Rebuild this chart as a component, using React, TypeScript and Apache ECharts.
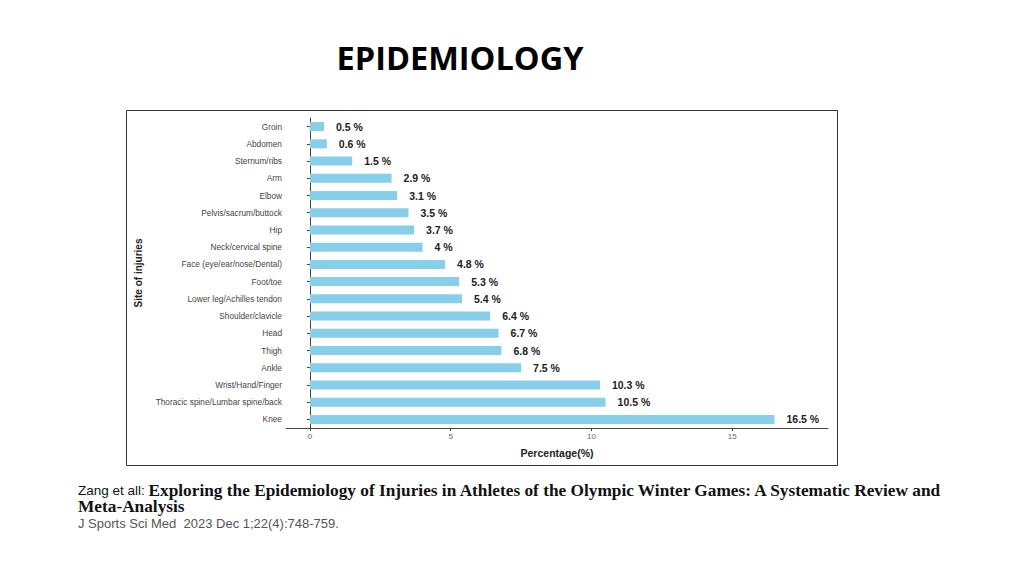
import React, { useEffect, useRef } from "react";
import * as echarts from "echarts";

const categories = [
  "Knee",
  "Thoracic spine/Lumbar spine/back",
  "Wrist/Hand/Finger",
  "Ankle",
  "Thigh",
  "Head",
  "Shoulder/clavicle",
  "Lower leg/Achilles tendon",
  "Foot/toe",
  "Face (eye/ear/nose/Dental)",
  "Neck/cervical spine",
  "Hip",
  "Pelvis/sacrum/buttock",
  "Elbow",
  "Arm",
  "Sternum/ribs",
  "Abdomen",
  "Groin",
];
const values = [16.5, 10.5, 10.3, 7.5, 6.8, 6.7, 6.4, 5.4, 5.3, 4.8, 4, 3.7, 3.5, 3.1, 2.9, 1.5, 0.6, 0.5];
const xTicks = [0, 5, 10, 15];

export default function App() {
  const ref = useRef<HTMLDivElement>(null);
  useEffect(() => {
    if (!ref.current) return;
    const chart = echarts.init(ref.current, null, { renderer: "svg" });
    chart.setOption({
      animation: false,
      backgroundColor: "#ffffff",
      grid: { left: 286, right: 196, top: 118, bottom: 148 },
      xAxis: {
        type: "value",
        min: -0.85,
        max: 18.4,
        name: "Percentage(%)",
        nameLocation: "middle",
        nameGap: 19,
        nameTextStyle: { fontSize: 10.5, fontWeight: "bold", color: "#222", fontFamily: "Liberation Sans" },
        axisLine: { show: true, lineStyle: { color: "#444", width: 1 } },
        axisTick: { show: true, customValues: xTicks, length: 3, lineStyle: { color: "#444" } },
        axisLabel: { customValues: xTicks, fontSize: 8, color: "#666", margin: 4, fontFamily: "Liberation Sans" },
        splitLine: { show: false },
      },
      yAxis: {
        type: "category",
        data: categories,
        name: "Site of injuries",
        nameLocation: "middle",
        nameRotate: 90,
        nameGap: 143,
        nameTextStyle: { fontSize: 10, fontWeight: "bold", color: "#222", fontFamily: "Liberation Sans" },
        axisLine: { show: true, lineStyle: { color: "#444", width: 1 } },
        axisTick: { show: true, alignWithLabel: true, length: 3, lineStyle: { color: "#444" } },
        axisLabel: { fontSize: 8.3, color: "#444", margin: 4, fontFamily: "Liberation Sans" },
      },
      series: [
        {
          type: "bar",
          data: values,
          barWidth: 9,
          itemStyle: { color: "#87CEEB" },
          label: {
            show: true,
            position: "right",
            distance: 12,
            fontSize: 10.5,
            fontWeight: "bold",
            color: "#222",
            fontFamily: "Liberation Sans",
            formatter: (p: any) => `${p.value} %`,
          },
        },
      ],
      graphic: [
        {
          type: "rect",
          shape: { x: 126.5, y: 110.5, width: 711, height: 355 },
          style: { fill: "none", stroke: "#333", lineWidth: 1 },
          z: -1,
        },
        {
          type: "text",
          x: 460,
          y: 57,
          style: {
            text: "EPIDEMIOLOGY",
            font: "bold 32.5px 'Open Sans', sans-serif",
            fill: "#000",
            align: "center",
            verticalAlign: "middle",
          },
        },
        {
          type: "text",
          x: 78,
          y: 490,
          style: {
            text: "{a|Zang et all: }{b|Exploring the Epidemiology of Injuries in Athletes of the Olympic Winter Games: A Systematic Review and}",
            verticalAlign: "middle",
            rich: {
              a: { fontSize: 13.5, fontFamily: "Liberation Sans Narrow, Liberation Sans", fill: "#111" },
              b: { fontSize: 17.3, fontFamily: "Liberation Serif", fontWeight: "bold", fill: "#111" },
            },
          },
        },
        {
          type: "text",
          x: 78,
          y: 506,
          style: {
            text: "Meta-Analysis",
            font: "bold 17.3px 'Liberation Serif'",
            fill: "#111",
            verticalAlign: "middle",
          },
        },
        {
          type: "text",
          x: 78,
          y: 523,
          style: {
            text: "J Sports Sci Med  2023 Dec 1;22(4):748-759.",
            font: "13px 'Liberation Sans Narrow', 'Liberation Sans'",
            fill: "#555",
            verticalAlign: "middle",
          },
        },
      ],
    });
    return () => chart.dispose();
  }, []);
  return <div ref={ref} style={{ position: "fixed", left: 0, top: 0, width: 1024, height: 576 }} />;
}
